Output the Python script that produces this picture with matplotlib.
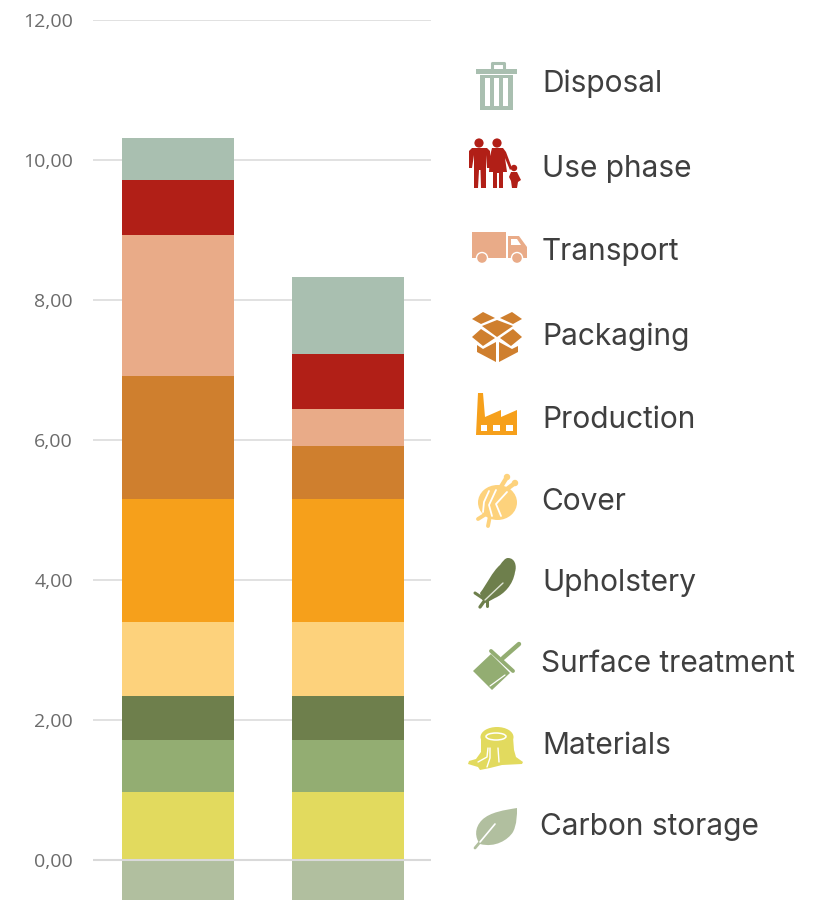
import matplotlib
matplotlib.use("Agg")
import matplotlib.pyplot as plt
from matplotlib.patches import Polygon, Circle, Rectangle, Ellipse, PathPatch
from matplotlib.path import Path

# === Data ===
carbon_storage = [-0.57, -0.57]
materials = [0.97, 0.97]
surface_treatment = [0.74, 0.74]
upholstery = [0.63, 0.63]
cover = [1.06, 1.06]
production = [1.75, 1.75]
packaging = [1.76, 0.76]
transport = [2.01, 0.53]
use_phase = [0.79, 0.79]
disposal = [0.60, 1.10]
y_ticks = [0, 2, 4, 6, 8, 10, 12]
y_labels = ["0,00", "2,00", "4,00", "6,00", "8,00", "10,00", "12,00"]

legend_names = ["Disposal", "Use phase", "Transport", "Packaging", "Production",
                "Cover", "Upholstery", "Surface treatment", "Materials", "Carbon storage"]
legend_y = [84, 169, 252, 337, 420, 502, 583, 664, 746, 827]
legend_x = [542, 542, 542, 542, 542, 541, 542, 541, 542, 540]

C_DISPOSAL = "#a9bfb0"
C_USE = "#b11f17"
C_TRANSPORT = "#e9ab88"
C_PACK = "#cf7f2e"
C_PROD = "#f6a01b"
C_COVER = "#fdd27c"
C_UPH = "#6e7f4c"
C_SURF = "#93ad72"
C_MAT = "#e2da5e"
C_CARBON = "#b1bf9f"

W, H = 827, 900
fig = plt.figure(figsize=(W / 100, H / 100), dpi=100, facecolor="white")

# === Chart ===
ax = fig.add_axes([93 / W, 0, 338 / W, 880.5 / H])
ax.set_xlim(-0.503, 1.491)
ax.set_ylim(-40 / 70, 12)
ax.set_axisbelow(True)
ax.grid(axis="y", color="#d9d9d9", lw=1.1)
for s in ax.spines.values():
    s.set_visible(False)
ax.set_xticks([])
ax.set_yticks(y_ticks)
ax.set_yticklabels(y_labels, family="Open Sans", fontsize=14, color="#6b6b6b")
ax.tick_params(axis="y", length=0, pad=14.4)

x = [0, 1]
width = 0.66
ax.bar(x, carbon_storage, width, color=C_CARBON)
bottom = [0, 0]
for vals, col in [(materials, C_MAT), (surface_treatment, C_SURF), (upholstery, C_UPH),
                  (cover, C_COVER), (production, C_PROD), (packaging, C_PACK),
                  (transport, C_TRANSPORT), (use_phase, C_USE), (disposal, C_DISPOSAL)]:
    ax.bar(x, vals, width, bottom=bottom, color=col)
    bottom = [b + v for b, v in zip(bottom, vals)]
ax.axhline(0, color="#d9d9d9", lw=1.5)

# === Legend (pixel coords overlay) ===
ov = fig.add_axes([0, 0, 1, 1])
ov.set_xlim(0, W)
ov.set_ylim(H, 0)
ov.axis("off")

for name, lx, ly in zip(legend_names, legend_x, legend_y):
    ov.text(lx, ly, name, family="Inter", fontsize=21.5, color="#3f3f3f", va="center", ha="left")


def poly(pts, col):
    ov.add_patch(Polygon(pts, closed=True, fc=col, ec="none"))


def line(pts, col, lw):
    ov.plot([p[0] for p in pts], [p[1] for p in pts], color=col, lw=lw, solid_capstyle="round")


def curve(verts, col):
    # verts: start point then cubic triples
    codes = [Path.MOVETO] + [Path.CURVE4] * (len(verts) - 1)
    ov.add_patch(PathPatch(Path(verts, codes), fc=col, ec="none"))


# trash can
ov.add_patch(Rectangle((480, 75), 33, 35, fc=C_DISPOSAL, ec="none"))
for sx in (485, 494, 503):
    ov.add_patch(Rectangle((sx, 78), 5, 28, fc="white", ec="none"))
ov.add_patch(Rectangle((476, 69), 41, 5, fc=C_DISPOSAL, ec="none"))
line([(492, 69), (492, 63), (504, 63), (504, 69)], C_DISPOSAL, 2.2)

# family
for hx in (479, 497):
    ov.add_patch(Circle((hx, 143), 4.6, fc=C_USE, ec="none"))
poly([(472, 148), (487, 148), (490, 151), (490, 168), (487, 168), (486, 155), (486, 188),
      (481, 188), (480.5, 170), (479, 170), (478, 188), (474, 188), (474, 155), (472, 168),
      (469, 168), (469, 151)], C_USE)
poly([(492, 148), (503, 148), (506, 152), (512, 168), (510, 170), (505, 158), (507, 172),
      (503, 172), (503, 188), (499, 188), (499, 173), (497, 173), (497, 188), (493, 188),
      (493, 172), (489, 172), (490, 156)], C_USE)
ov.add_patch(Circle((514, 168), 3.2, fc=C_USE, ec="none"))
poly([(511, 172), (517, 172), (521, 180), (518, 182), (517, 188), (512, 188), (511, 181), (509, 177)], C_USE)

# truck
ov.add_patch(Rectangle((472, 232), 34, 26, fc=C_TRANSPORT, ec="none"))
poly([(508, 236), (519, 236), (527, 247), (527, 258), (508, 258)], C_TRANSPORT)
poly([(511, 239), (517, 239), (521, 245), (511, 245)], "white")
for wx in (482, 517):
    ov.add_patch(Circle((wx, 258), 6.2, fc="white", ec="none"))
    ov.add_patch(Circle((wx, 258), 4.8, fc=C_TRANSPORT, ec="none"))

# box
poly([(472, 319), (483, 312), (495, 318), (481, 324)], C_PACK)
poly([(500, 318), (512, 312), (522, 319), (513, 324)], C_PACK)
poly([(482, 326), (497, 320), (513, 326), (497, 337)], C_PACK)
poly([(472, 337), (481, 329), (495, 338), (483, 346)], C_PACK)
poly([(500, 338), (513, 329), (522, 337), (511, 346)], C_PACK)
poly([(477, 345), (483, 349), (496, 342), (496, 362), (477, 352)], C_PACK)
poly([(499, 342), (512, 349), (518, 346), (518, 352), (499, 362)], C_PACK)

# factory
poly([(478, 393), (483, 393), (485, 417), (501, 410), (501, 417), (517, 410), (517, 435), (476, 435)], C_PROD)
for wx, ww in ((481, 6), (493, 7), (506, 7)):
    ov.add_patch(Rectangle((wx, 425), ww, 6, fc="white", ec="none"))

# yarn ball
line([(499, 490), (507, 477)], C_COVER, 3.2)
line([(503, 492), (515, 483)], C_COVER, 3.2)
ov.add_patch(Circle((507, 477), 3.2, fc=C_COVER, ec="none"))
ov.add_patch(Circle((515, 483), 3.2, fc=C_COVER, ec="none"))
ov.add_patch(Ellipse((497.5, 502.5), 39, 35, fc=C_COVER, ec="none"))
line([(478, 519), (486, 514)], C_COVER, 2.8)
line([(488, 526), (490, 516)], C_COVER, 2.8)
for pts in ([(483, 512), (484, 502), (489, 491)], [(492, 516), (489, 505), (496, 490)],
            [(501, 516), (496, 504), (507, 492)]):
    line(pts, "white", 1.3)

# feather
curve([(508, 558), (515, 558), (517, 566), (515, 572),
       (513, 585), (504, 594), (495, 598),
       (491, 600), (488, 602), (485, 603),
       (482, 600), (481, 597), (480, 593),
       (487, 584), (492, 572), (500, 565),
       (503, 561), (505, 558), (508, 558)], C_UPH)
line([(475, 593), (484, 599)], C_UPH, 2.2)
line([(480, 607), (485, 600)], C_UPH, 2.4)
line([(487, 606), (487, 600)], C_UPH, 2.2)
line([(485, 600), (503, 583)], "#dfe4d5", 1)

# paint brush
poly([(473, 671), (491, 654), (510, 673), (492, 690)], C_SURF)
line([(491, 651), (513, 671)], C_SURF, 2.8)
line([(503, 658), (519, 644)], C_SURF, 3.2)
line([(490, 686), (505, 675)], "white", 0.9)

# stump
poly([(481, 737), (513, 737), (514, 750), (516, 757), (523, 762), (522, 764), (502, 765),
      (490, 768), (480, 770), (478, 767), (468, 764), (469, 761), (476, 759), (481, 752)], C_MAT)
ov.add_patch(Ellipse((497, 737), 33, 20, fc=C_MAT, ec="none"))
ov.add_patch(Ellipse((496, 736.5), 20, 7, fc="none", ec="white", lw=1.1))
line([(488, 748), (487, 757), (478, 762)], "white", 1)
line([(490, 748), (490, 758), (487, 767)], "white", 1)
line([(498, 748), (499, 762)], "white", 1)

# leaf
curve([(517, 808), (505, 810), (490, 812), (482, 820),
       (474, 828), (475, 838), (480, 844),
       (495, 848), (508, 840), (513, 832),
       (517, 824), (517, 815), (517, 808)], C_CARBON)
line([(475, 848), (480, 842)], C_CARBON, 2)
line([(480, 842), (495, 824)], "white", 1.2)

fig.savefig("out.png", dpi=100)
